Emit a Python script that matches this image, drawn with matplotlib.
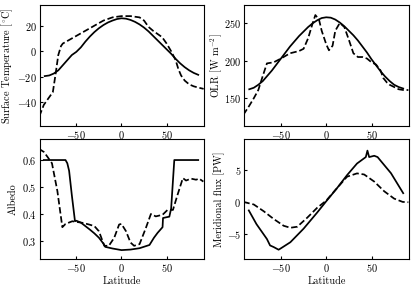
import matplotlib
matplotlib.use("Agg")
import matplotlib.pyplot as plt

plt.rcParams['font.family'] = ['cmr10', 'DejaVu Serif']
plt.rcParams['mathtext.fontset'] = 'cm'
plt.rcParams['axes.formatter.use_mathtext'] = True
plt.rcParams['font.size'] = 7.4
plt.rcParams['xtick.direction'] = 'in'
plt.rcParams['ytick.direction'] = 'in'
plt.rcParams['xtick.major.size'] = 2.5
plt.rcParams['ytick.major.size'] = 2.5

# Model (solid) latitudes and series
lat_s = [-85, -80, -75, -70, -65, -60, -55, -50, -45, -40, -35, -30, -25, -20, -15, -10, -5,
         0, 5, 10, 15, 20, 25, 30, 35, 40, 45, 50, 55, 60, 65, 70, 75, 80, 85]
temp_s = [-19.5, -19, -17.5, -15, -11, -7, -3, -0.5, 3, 7.5, 11.5, 15, 18, 20.5, 22.5, 24, 25.2,
          25.8, 25.5, 24.5, 23, 21, 18.5, 15.5, 12, 8.5, 5, 1.5, -2, -6, -9.5, -12.5, -15, -17, -18.5]
olr_s = [162, 164, 168, 173, 180, 187, 195, 203, 211, 219, 226, 233, 239, 245, 250, 254, 257,
         258, 257.5, 255, 251, 246, 240, 234, 227, 219, 211, 202, 194, 186, 179, 173, 168, 165, 163]

# Observed (dashed) temperature
lat_td = [-91, -86, -80, -76, -73, -70, -67, -65, -60, -50, -40, -30, -20, -10, 0, 10, 20, 25, 30,
          35, 40, 45, 50, 55, 60, 63, 66, 70, 75, 80, 85, 91]
temp_d = [-51, -42, -36, -32, -18, -3, 4, 6, 8, 12, 16, 20, 24, 26.5, 27.5, 27.5, 26.5, 24, 19,
          16, 13.5, 11, 6, 0, -7, -14, -19, -23, -26, -27.5, -28.5, -29.5]

# Observed (dashed) OLR
lat_od = [-91.5, -85, -80, -75, -70, -65.5, -58, -50, -40, -30, -25, -20, -15, -12, -8, -5, 0, 3,
          7, 10, 15, 20, 25, 30, 35, 40, 45, 50, 55, 60, 63, 67, 70, 75, 80, 85, 90.7]
olr_d = [128, 140, 150, 161, 180, 196.5, 198, 203, 210, 213, 216, 230, 250, 261, 255, 240, 222, 214,
         220, 240, 250.5, 245, 228, 210, 205, 205, 203, 198, 195, 187, 177, 171, 168, 165, 162, 161, 161]

# Model (solid) albedo
lat_as = [-86, -62, -60, -58, -55, -51.5, -50, -45, -40, -35, -30, -25, -20, -18, -10, 0, 10, 20,
          31, 36, 40, 45.5, 46, 50, 53, 55, 58.5, 85]
alb_s = [0.6, 0.6, 0.588, 0.56, 0.47, 0.373, 0.375, 0.368, 0.355, 0.342, 0.328, 0.312, 0.29, 0.278,
         0.272, 0.266, 0.268, 0.273, 0.285, 0.312, 0.33, 0.351, 0.385, 0.388, 0.39, 0.42, 0.6, 0.6]

# Observed (dashed) albedo
lat_ad = [-91.5, -86, -82, -77, -71, -65.5, -62, -54.5, -43, -36, -30, -25, -19, -14, -8, -2.6, 0, 5,
          10, 14, 20, 27, 32.6, 38, 45.5, 51, 57, 62, 68, 71.5, 77, 82.6, 86, 90.7]
alb_d = [0.642, 0.63, 0.612, 0.588, 0.485, 0.351, 0.363, 0.373, 0.367, 0.361, 0.355, 0.336, 0.282,
         0.282, 0.312, 0.361, 0.363, 0.336, 0.294, 0.282, 0.288, 0.348, 0.4, 0.391, 0.397, 0.415,
         0.415, 0.47, 0.533, 0.524, 0.531, 0.527, 0.531, 0.52]

# Model (solid) meridional flux
lat_fs = [-85.5, -77, -65.5, -62, -58, -52.6, -50.7, -39.6, -25, -10, 0, 12, 23, 34, 43.7, 45.5,
          47.4, 53, 56.7, 71.5, 85]
flux_s = [-1.27, -3.4, -5.7, -6.7, -6.95, -7.36, -7.2, -6.2, -4.1, -1.6, 0.15, 2.2, 4.2, 6.0, 7.0,
          8.0, 7.0, 7.2, 7.0, 4.5, 1.4]

# Observed (dashed) meridional flux
lat_fd = [-91.5, -80, -69, -58, -47, -39.6, -32, -21, -10, 0, 12, 23, 34, 41.9, 53, 64, 75, 84.4, 90.7]
flux_d = [0.05, -0.35, -1.4, -2.6, -3.65, -3.96, -3.8, -2.4, -0.86, 0.25, 2.2, 3.96, 4.47, 4.3, 3.2,
          1.7, 0.56, 0.05, 0.0]

fig = plt.figure(figsize=(4.15, 2.91), dpi=100)
W, H = 415.0, 291.0
def mk(x0, x1, y0, y1):
    return fig.add_axes([x0 / W, 1 - y1 / H, (x1 - x0) / W, (y1 - y0) / H])

ax1 = mk(39.5, 204, 5, 126)
ax2 = mk(244, 409, 5, 126)
ax3 = mk(39.5, 204, 139, 259)
ax4 = mk(244, 409, 139, 259)

lw = 1.25
ax1.plot(lat_s, temp_s, 'k-', lw=lw)
ax1.plot(lat_td, temp_d, 'k--', lw=lw)
ax1.set_ylim(-58.6, 36.2)
ax1.set_yticks([-40, -20, 0, 20])
ax1.set_ylabel(r'Surface Temperature [$^{\circ}$C]')
ax1.yaxis.set_label_coords(-0.15, 0.5)

ax2.plot(lat_s, olr_s, 'k-', lw=lw)
ax2.plot(lat_od, olr_d, 'k--', lw=lw)
ax2.set_ylim(113, 274.4)
ax2.set_yticks([150, 200, 250])
ax2.set_ylabel(r'OLR [W m$^{-2}$]')
ax2.yaxis.set_label_coords(-0.122, 0.5)

ax3.plot(lat_as, alb_s, 'k-', lw=lw)
ax3.plot(lat_ad, alb_d, 'k--', lw=lw)
ax3.set_ylim(0.233, 0.678)
ax3.set_yticks([0.3, 0.4, 0.5, 0.6])
ax3.set_ylabel('Albedo')
ax3.yaxis.set_label_coords(-0.132, 0.5)
ax3.set_xlabel('Latitude')

ax4.plot(lat_fs, flux_s, 'k-', lw=lw)
ax4.plot(lat_fd, flux_d, 'k--', lw=lw)
ax4.set_ylim(-8.8, 9.8)
ax4.set_yticks([-5, 0, 5])
ax4.set_ylabel('Meridional flux [PW]')
ax4.yaxis.set_label_coords(-0.116, 0.5)
ax4.set_xlabel('Latitude')

for ax in (ax1, ax2, ax3, ax4):
    ax.set_xlim(-90.8, 91.4)
    ax.set_xticks([-50, 0, 50])
    ax.tick_params(pad=2)
    ax.xaxis.labelpad = 2

fig.savefig('out.png', dpi=100)
